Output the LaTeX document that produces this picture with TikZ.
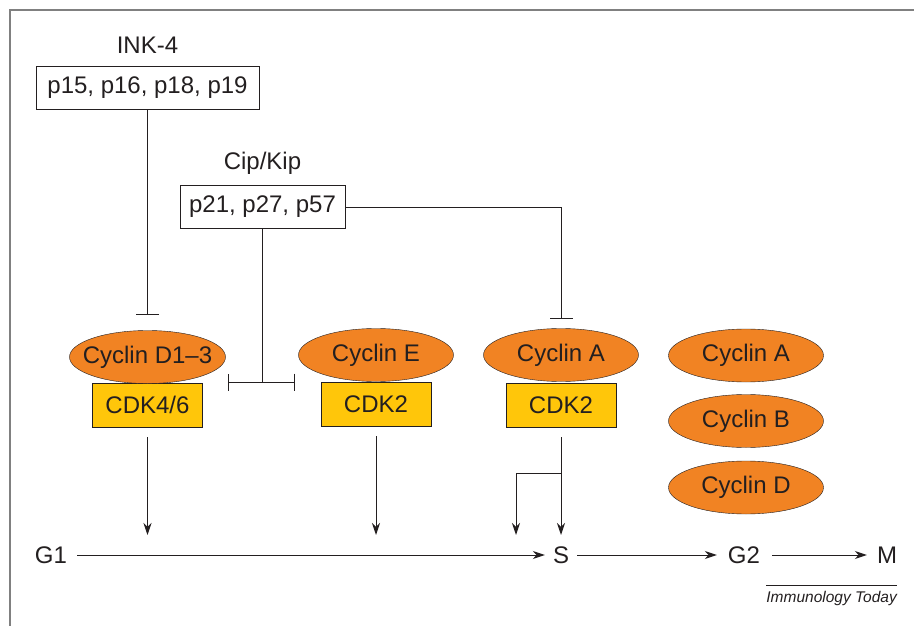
\documentclass[tikz,border=0pt]{standalone}
\usepackage{fontspec}
\setmainfont{Liberation Sans}
\usetikzlibrary{shapes.geometric,arrows.meta}
\definecolor{cycorange}{RGB}{241,131,35}
\definecolor{cdkyellow}{RGB}{255,198,10}
\definecolor{inkgray}{RGB}{35,31,32}

\begin{document}
\begin{tikzpicture}[x=1pt,y=1pt,
    every node/.style={font=\fontsize{24}{28}\selectfont,text=inkgray},
    cyclin/.style={ellipse,draw=inkgray,fill=cycorange,minimum width=155pt,minimum height=53pt,inner xsep=-20pt,inner ysep=0pt},
    cdk/.style={rectangle,draw=inkgray,fill=cdkyellow,minimum width=110pt,minimum height=44pt,inner sep=0pt},
    inhbox/.style={rectangle,draw=inkgray,minimum height=43pt,inner sep=0pt},
    phase/.style={inner xsep=0pt},
    blocks/.style={-{Bar[width=#1]},line width=1pt,draw=inkgray},
    acts/.style={-{Stealth[length=12pt,width=8pt]},line width=1pt,draw=inkgray}]

    \useasboundingbox (0,0) rectangle (914,-626);
    \draw[gray,line width=2pt] (10,-626) -- (10,-10) -- (914,-10);

    % inhibitors
    \node (inklab) at (147.5,-45) {INK-4};
    \node[inhbox,minimum width=223pt] (ink) at (147.5,-88) {p15, p16, p18, p19};
    \node (ciplab) at (262.5,-163) {Cip/Kip};
    \node[inhbox,minimum width=165pt] (cip) at (262.5,-207) {p21, p27, p57};

    % cyclin--CDK complexes
    \node[cdk] (cdkD) at (147.5,-405) {CDK4/6};
    \node[cyclin,minimum width=156pt] (cycD) at (147.5,-357) {Cyclin D1--3};
    \node[cdk] (cdkE) at (376,-404) {CDK2};
    \node[cyclin] (cycE) at (376,-355) {Cyclin E};
    \node[cdk] (cdkA) at (561,-405) {CDK2};
    \node[cyclin] (cycA) at (561,-355) {Cyclin A};

    % free cyclins
    \node[cyclin] (cycA2) at (746,-355.5) {Cyclin A};
    \node[cyclin] (cycB) at (746,-421) {Cyclin B};
    \node[cyclin] (cycD2) at (746,-487.5) {Cyclin D};

    % cell cycle phases
    \node[phase] (g1) at (51,-555) {G1};
    \node[phase] (s) at (561,-555) {S};
    \node[phase] (g2) at (744,-555) {G2};
    \node[phase] (m) at (887,-555) {M};

    \coordinate (cipfork) at (261,-382);
    \coordinate (barL) at (228,-382);
    \coordinate (barR) at (295,-382);
    \coordinate (inD) at (147.5,-535);
    \coordinate (inE) at (376,-535);
    \coordinate (inA) at (561,-535);
    \coordinate (splitA) at (561,-473);
    \coordinate (inA2) at (516,-535);

    \draw[blocks=23pt,shorten >=15pt] (ink.south) -- (cycD.north);
    \draw[blocks=23pt,shorten >=9pt] (cip.east) -| (cycA.north);
    \draw[line width=1pt,inkgray] (cip.south) -- (cip.south |- cipfork);
    \draw[blocks=17pt] (cipfork) -- (barL);
    \draw[blocks=17pt] (cipfork) -- (barR);

    \draw[acts,shorten <=10pt] (cdkD.south) -- (inD);
    \draw[acts,shorten <=10pt] (cdkE.south) -- (inE);
    \draw[acts,shorten <=10pt] (cdkA.south) -- (inA);
    \draw[acts] (splitA) -| (inA2);

    \draw[acts,shorten <=10pt,shorten >=8pt] (g1.east) -- (s.west);
    \draw[acts,shorten <=8pt,shorten >=11pt] (s.east) -- (g2.west);
    \draw[acts,shorten <=12pt,shorten >=10pt] (g2.east) -- (m.west);

    \node[anchor=base east,inner sep=0pt,font=\fontsize{15.5}{18}\selectfont\itshape] (credit) at (897,-602) {Immunology Today};
    \draw[line width=1pt,inkgray] ([yshift=5pt]credit.north west) -- ([yshift=5pt]credit.north east);
\end{tikzpicture}
\end{document}
